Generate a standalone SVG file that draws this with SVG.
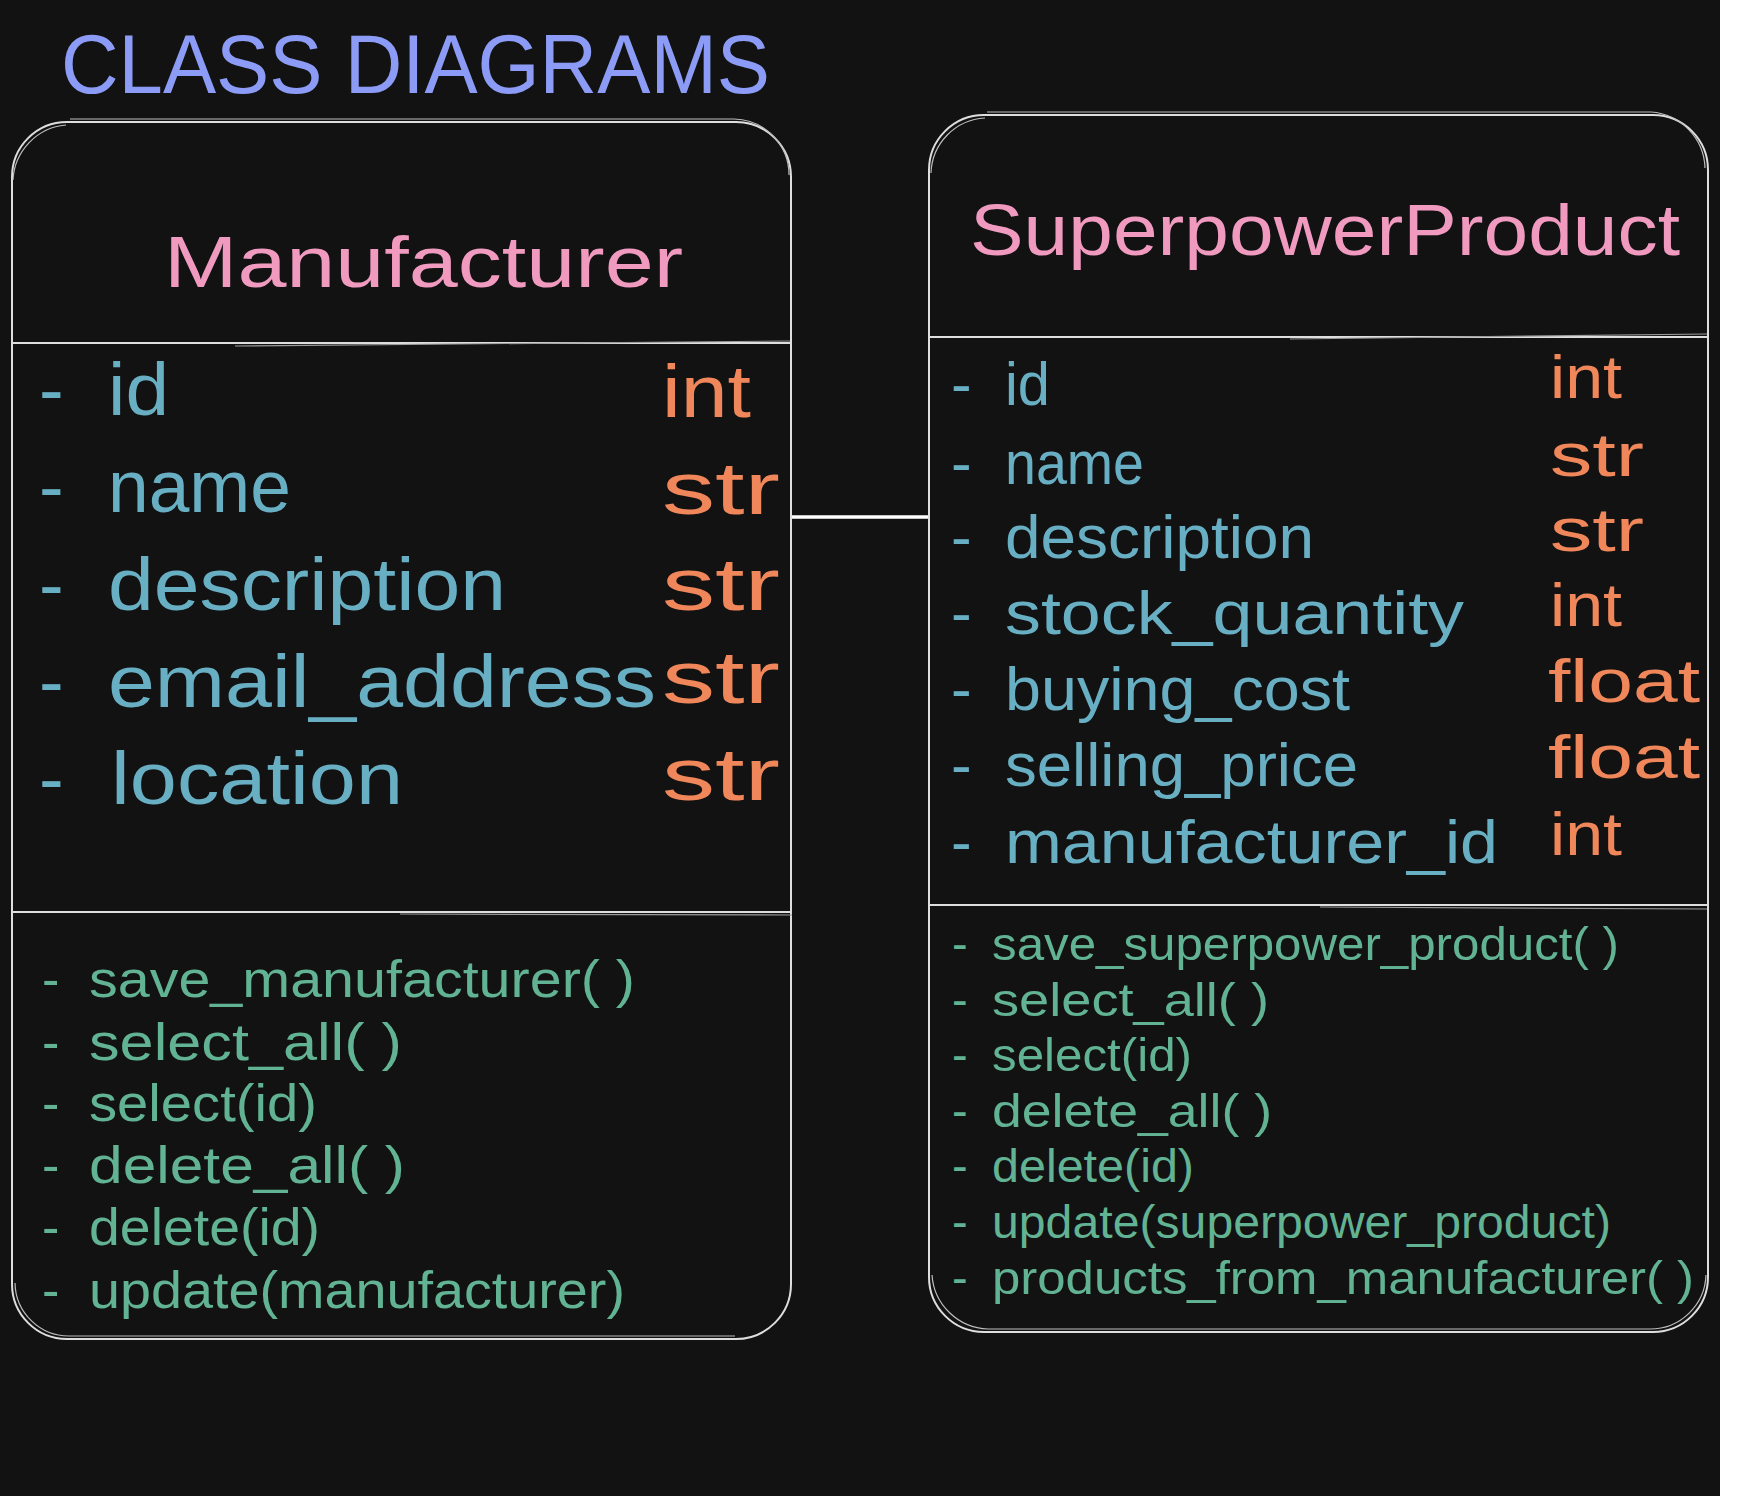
<svg xmlns="http://www.w3.org/2000/svg" width="1742" height="1496" viewBox="0 0 1742 1496">
  <style>
    text { font-family: "Liberation Sans", "Noto Sans", "DejaVu Sans", sans-serif; }
    .title { fill: #8c9cf6; font-size: 84px; }
    .cls { fill: #f09ac0; font-size: 72px; }
    .attrL { fill: #68afc4; font-size: 74px; }
    .attrR { fill: #68afc4; font-size: 62px; }
    .typeL { fill: #f0875a; font-size: 74px; }
    .typeR { fill: #f0875a; font-size: 62px; }
    .methL { fill: #62b394; font-size: 52px; }
    .methR { fill: #62b394; font-size: 47px; }
    .box { fill: #121212; stroke: #dedede; stroke-width: 2; }
    .box2 { fill: none; stroke: #bdbdbd; stroke-width: 1.2; }
    .sep { stroke: #dedede; stroke-width: 2; }
    .sep2 { stroke: #9a9a9a; stroke-width: 1.2; }
    .conn { stroke: #ffffff; stroke-width: 3.5; fill: none; }
  </style>
  <rect x="0" y="0" width="1742" height="1496" fill="#121212"/>
  <rect x="1720" y="0" width="22" height="1496" fill="#ffffff"/>

  <g id="title">
    <text class="title" x="61" y="93" textLength="709" lengthAdjust="spacingAndGlyphs">CLASS DIAGRAMS</text>
  </g>

  <g id="connectors">
    <line class="conn" x1="790" y1="517" x2="930" y2="517"/>
  </g>

  <g id="manufacturer">
    <path class="box" d="M67 122 H736 A55 55 0 0 1 791 177 V1284 A55 55 0 0 1 736 1339 H67 A55 55 0 0 1 12 1284 V177 A55 55 0 0 1 67 122 Z"/>
    <path class="box2" d="M70 119 H734 A56 56 0 0 1 789 175 M13 180 A58 58 0 0 1 66 125 M15 1283 A54 54 0 0 0 70 1336 H735"/>
    <line class="sep" x1="13" y1="343" x2="790" y2="343"/>
    <line class="sep2" x1="235" y1="346" x2="790" y2="341"/>
    <line class="sep" x1="13" y1="912" x2="790" y2="912"/>
    <line class="sep2" x1="400" y1="914" x2="792" y2="915"/>
    <text class="cls" x="164" y="287" textLength="519" lengthAdjust="spacingAndGlyphs">Manufacturer</text>

    <text class="attrL" x="39" y="415">-</text>
    <text class="attrL" x="108" y="415" textLength="61" lengthAdjust="spacingAndGlyphs">id</text>
    <text class="typeL" x="662" y="417" textLength="89" lengthAdjust="spacingAndGlyphs">int</text>

    <text class="attrL" x="39" y="512">-</text>
    <text class="attrL" x="108" y="512" textLength="183" lengthAdjust="spacingAndGlyphs">name</text>
    <text class="typeL" x="662" y="514" textLength="118" lengthAdjust="spacingAndGlyphs">str</text>

    <text class="attrL" x="39" y="610">-</text>
    <text class="attrL" x="108" y="610" textLength="398" lengthAdjust="spacingAndGlyphs">description</text>
    <text class="typeL" x="662" y="610" textLength="118" lengthAdjust="spacingAndGlyphs">str</text>

    <text class="attrL" x="39" y="707">-</text>
    <text class="attrL" x="108" y="707" textLength="548" lengthAdjust="spacingAndGlyphs">email_address</text>
    <text class="typeL" x="662" y="703" textLength="118" lengthAdjust="spacingAndGlyphs">str</text>

    <text class="attrL" x="39" y="804">-</text>
    <text class="attrL" x="111" y="804" textLength="292" lengthAdjust="spacingAndGlyphs">location</text>
    <text class="typeL" x="662" y="800" textLength="118" lengthAdjust="spacingAndGlyphs">str</text>

    <text class="methL" x="42" y="997">-</text>
    <text class="methL" x="89" y="997" textLength="546" lengthAdjust="spacingAndGlyphs">save_manufacturer( )</text>
    <text class="methL" x="42" y="1060">-</text>
    <text class="methL" x="89" y="1060" textLength="313" lengthAdjust="spacingAndGlyphs">select_all( )</text>
    <text class="methL" x="42" y="1121">-</text>
    <text class="methL" x="89" y="1121" textLength="228" lengthAdjust="spacingAndGlyphs">select(id)</text>
    <text class="methL" x="42" y="1183">-</text>
    <text class="methL" x="89" y="1183" textLength="316" lengthAdjust="spacingAndGlyphs">delete_all( )</text>
    <text class="methL" x="42" y="1245">-</text>
    <text class="methL" x="89" y="1245" textLength="231" lengthAdjust="spacingAndGlyphs">delete(id)</text>
    <text class="methL" x="42" y="1308">-</text>
    <text class="methL" x="89" y="1308" textLength="536" lengthAdjust="spacingAndGlyphs">update(manufacturer)</text>
  </g>

  <g id="superpower-product">
    <path class="box" d="M984 115 H1653 A55 55 0 0 1 1708 170 V1277 A55 55 0 0 1 1653 1332 H984 A55 55 0 0 1 929 1277 V170 A55 55 0 0 1 984 115 Z"/>
    <path class="box2" d="M987 112 H1651 A58 58 0 0 1 1705 168 M931 173 A57 57 0 0 1 985 118 M932 1275 A58 58 0 0 0 988 1329 H1650 A56 56 0 0 0 1706 1275"/>
    <line class="sep" x1="930" y1="337" x2="1707" y2="337"/>
    <line class="sep2" x1="1290" y1="339" x2="1707" y2="334"/>
    <line class="sep" x1="930" y1="905" x2="1707" y2="905"/>
    <line class="sep2" x1="1320" y1="907" x2="1707" y2="909"/>
    <text class="cls" x="970" y="255" textLength="710" lengthAdjust="spacingAndGlyphs">SuperpowerProduct</text>

    <text class="attrR" x="951" y="405">-</text>
    <text class="attrR" x="1005" y="405" textLength="45" lengthAdjust="spacingAndGlyphs">id</text>
    <text class="typeR" x="1550" y="398" textLength="72" lengthAdjust="spacingAndGlyphs">int</text>

    <text class="attrR" x="951" y="484">-</text>
    <text class="attrR" x="1005" y="484" textLength="139" lengthAdjust="spacingAndGlyphs">name</text>
    <text class="typeR" x="1550" y="476" textLength="94" lengthAdjust="spacingAndGlyphs">str</text>

    <text class="attrR" x="951" y="558">-</text>
    <text class="attrR" x="1005" y="558" textLength="309" lengthAdjust="spacingAndGlyphs">description</text>
    <text class="typeR" x="1550" y="551" textLength="94" lengthAdjust="spacingAndGlyphs">str</text>

    <text class="attrR" x="951" y="634">-</text>
    <text class="attrR" x="1005" y="634" textLength="459" lengthAdjust="spacingAndGlyphs">stock_quantity</text>
    <text class="typeR" x="1550" y="626" textLength="72" lengthAdjust="spacingAndGlyphs">int</text>

    <text class="attrR" x="951" y="710">-</text>
    <text class="attrR" x="1005" y="710" textLength="345" lengthAdjust="spacingAndGlyphs">buying_cost</text>
    <text class="typeR" x="1548" y="702" textLength="152" lengthAdjust="spacingAndGlyphs">float</text>

    <text class="attrR" x="951" y="786">-</text>
    <text class="attrR" x="1005" y="786" textLength="353" lengthAdjust="spacingAndGlyphs">selling_price</text>
    <text class="typeR" x="1548" y="778" textLength="152" lengthAdjust="spacingAndGlyphs">float</text>

    <text class="attrR" x="951" y="863">-</text>
    <text class="attrR" x="1005" y="863" textLength="493" lengthAdjust="spacingAndGlyphs">manufacturer_id</text>
    <text class="typeR" x="1550" y="855" textLength="72" lengthAdjust="spacingAndGlyphs">int</text>

    <text class="methR" x="952" y="960">-</text>
    <text class="methR" x="992" y="960" textLength="627" lengthAdjust="spacingAndGlyphs">save_superpower_product( )</text>
    <text class="methR" x="952" y="1016">-</text>
    <text class="methR" x="992" y="1016" textLength="277" lengthAdjust="spacingAndGlyphs">select_all( )</text>
    <text class="methR" x="952" y="1071">-</text>
    <text class="methR" x="992" y="1071" textLength="200" lengthAdjust="spacingAndGlyphs">select(id)</text>
    <text class="methR" x="952" y="1127">-</text>
    <text class="methR" x="992" y="1127" textLength="280" lengthAdjust="spacingAndGlyphs">delete_all( )</text>
    <text class="methR" x="952" y="1182">-</text>
    <text class="methR" x="992" y="1182" textLength="202" lengthAdjust="spacingAndGlyphs">delete(id)</text>
    <text class="methR" x="952" y="1238">-</text>
    <text class="methR" x="992" y="1238" textLength="619" lengthAdjust="spacingAndGlyphs">update(superpower_product)</text>
    <text class="methR" x="952" y="1294">-</text>
    <text class="methR" x="992" y="1294" textLength="702" lengthAdjust="spacingAndGlyphs">products_from_manufacturer( )</text>
  </g>
</svg>
